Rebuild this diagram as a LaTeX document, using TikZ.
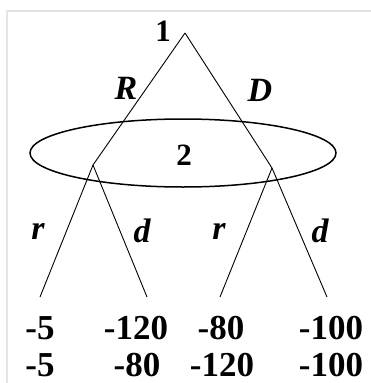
\documentclass[tikz,border=0pt]{standalone}
\usepackage{fontspec}
\setmainfont{Liberation Serif}
\usepackage{xcolor}
\usetikzlibrary{positioning, calc}
\definecolor{FrameGray}{RGB}{228,228,228}

\begin{document}
\begin{tikzpicture}[
  x=1pt, y=-1pt,
  every node/.style={inner sep=0pt},
  branch/.style={draw=black, line width=0.9pt},
  infoset/.style={draw=black, line width=1.5pt},
  pay/.style={font=\fontsize{35}{37}\selectfont\bfseries},
  move/.style={font=\fontsize{34}{36}\selectfont\bfseries\itshape},
  player/.style={font=\fontsize{31}{33}\selectfont\bfseries}
]
\useasboundingbox (0,0) rectangle (371,383);
\draw[FrameGray, line width=1.2pt] (7,383) -- (7,11) -- (371,11);
% decision points
\coordinate (root) at (185,33);
\coordinate (left) at (93,165);
\coordinate (right) at (272,168);
\coordinate (rr) at (40,297);
\coordinate (rd) at (147,297);
\coordinate (dr) at (220,297);
\coordinate (dd) at (327,297);
% information set
\draw[infoset] (183,153) ellipse [x radius=153, y radius=34];
\draw[branch] (root) -- (left);
\draw[branch] (root) -- (right);
\draw[branch] (left) -- (rr);
\draw[branch] (left) -- (rd);
\draw[branch] (right) -- (dr);
\draw[branch] (right) -- (dd);
% labels
\node[player] (p1) at (163,31) {1};
\node[player] (p2) at (184,155) {2};
\node[move] (mR) at (126,88) {R};
\node[move] (mD) at (260,90) {D};
\node[move] (mr1) at (38,231) {r};
\node[move] (md1) at (142,231) {d};
\node[move] (mr2) at (219,231) {r};
\node[move] (md2) at (320,231) {d};
% payoffs
\node[pay] (a1) at (40,328) {-5};
\node[pay] (b1) at (136,328) {-120};
\node[pay] (c1) at (221,328) {-80};
\node[pay] (d1) at (331,328) {-100};
\node[pay] (a2) at (40,365) {-5};
\node[pay] (b2) at (137,365) {-80};
\node[pay] (c2) at (222,365) {-120};
\node[pay] (d2) at (331,365) {-100};
\end{tikzpicture}
\end{document}
